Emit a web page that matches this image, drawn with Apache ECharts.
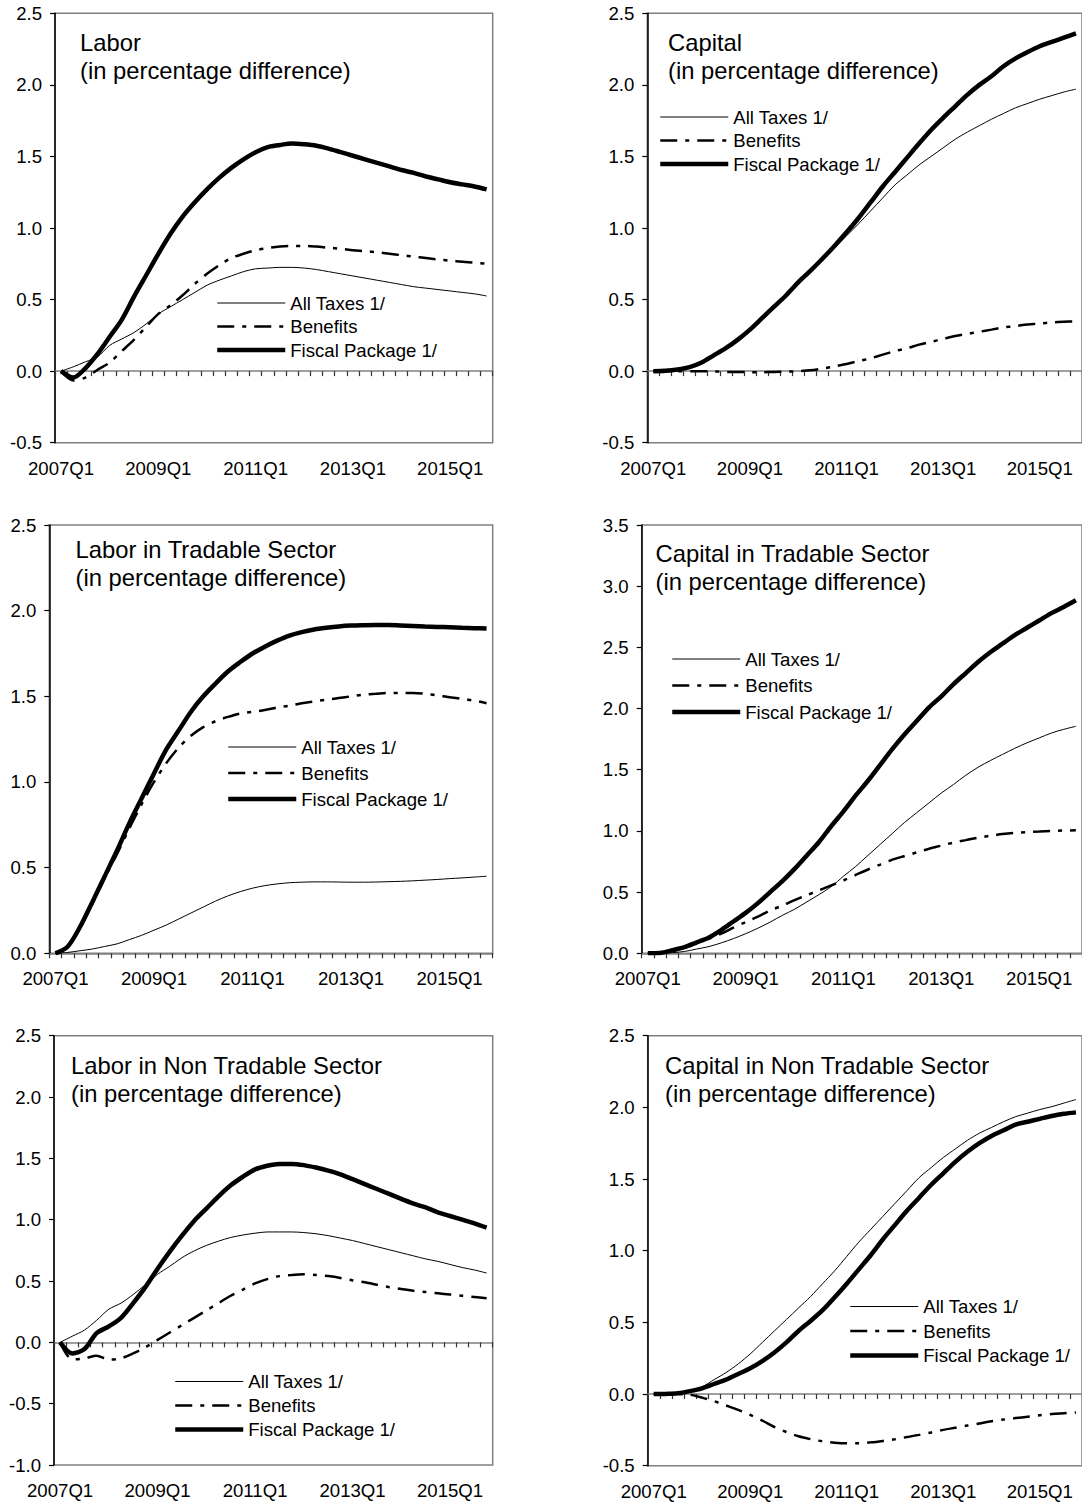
<!DOCTYPE html>
<html>
<head>
<meta charset="utf-8">
<script src="https://cdn.jsdelivr.net/npm/echarts@6/dist/echarts.min.js"></script>
<style>
  html, body { margin: 0; padding: 0; background: #fff; }
  #chart { width: 1082px; height: 1505px; overflow: hidden; }
</style>
</head>
<body>
<div id="chart"></div>
<script>
// ---------- Data ----------
const quarters = [
  '2007Q1','2007Q2','2007Q3','2007Q4','2008Q1','2008Q2','2008Q3','2008Q4',
  '2009Q1','2009Q2','2009Q3','2009Q4','2010Q1','2010Q2','2010Q3','2010Q4',
  '2011Q1','2011Q2','2011Q3','2011Q4','2012Q1','2012Q2','2012Q3','2012Q4',
  '2013Q1','2013Q2','2013Q3','2013Q4','2014Q1','2014Q2','2014Q3','2014Q4',
  '2015Q1','2015Q2','2015Q3','2015Q4'
];
const seriesNames = ['All Taxes 1/', 'Benefits', 'Fiscal Package 1/'];

// Labor
const laborAllTaxes = [0, 0.03, 0.065, 0.1, 0.18, 0.225, 0.27, 0.33, 0.4, 0.45, 0.5, 0.55, 0.6, 0.635, 0.665, 0.695, 0.715, 0.72, 0.725, 0.725, 0.72, 0.71, 0.695, 0.68, 0.665, 0.65, 0.635, 0.62, 0.605, 0.59, 0.58, 0.57, 0.56, 0.55, 0.54, 0.525];
const laborBenefits = [0, -0.065, -0.045, 0.01, 0.06, 0.14, 0.22, 0.31, 0.4, 0.46, 0.53, 0.61, 0.68, 0.74, 0.79, 0.82, 0.845, 0.86, 0.87, 0.875, 0.875, 0.87, 0.862, 0.855, 0.845, 0.838, 0.83, 0.82, 0.81, 0.8, 0.79, 0.78, 0.772, 0.765, 0.758, 0.75];
const laborFiscal = [0, -0.045, 0.02, 0.12, 0.24, 0.36, 0.52, 0.67, 0.82, 0.96, 1.08, 1.18, 1.27, 1.35, 1.42, 1.48, 1.53, 1.565, 1.58, 1.59, 1.585, 1.575, 1.555, 1.53, 1.505, 1.48, 1.455, 1.43, 1.405, 1.385, 1.36, 1.34, 1.32, 1.305, 1.29, 1.27];

// Capital
const capitalAllTaxes = [0, 0.003, 0.012, 0.028, 0.06, 0.11, 0.16, 0.22, 0.29, 0.37, 0.45, 0.53, 0.62, 0.7, 0.78, 0.86, 0.945, 1.03, 1.12, 1.21, 1.3, 1.37, 1.44, 1.5, 1.56, 1.62, 1.67, 1.715, 1.76, 1.8, 1.84, 1.87, 1.9, 1.925, 1.95, 1.97];
const capitalBenefits = [0, 0, 0, 0, 0, -0.002, -0.005, -0.006, -0.007, -0.007, -0.006, -0.004, 0, 0.006, 0.018, 0.033, 0.05, 0.07, 0.09, 0.115, 0.14, 0.16, 0.185, 0.205, 0.225, 0.245, 0.26, 0.275, 0.29, 0.305, 0.315, 0.325, 0.333, 0.34, 0.345, 0.348];
const capitalFiscal = [0, 0.003, 0.012, 0.028, 0.06, 0.11, 0.16, 0.22, 0.29, 0.37, 0.45, 0.53, 0.62, 0.7, 0.785, 0.875, 0.97, 1.07, 1.18, 1.29, 1.39, 1.49, 1.59, 1.685, 1.77, 1.85, 1.93, 2.0, 2.06, 2.13, 2.185, 2.23, 2.27, 2.3, 2.33, 2.36];

// Labor in Tradable Sector
const laborTradAllTaxes = [0, 0.005, 0.015, 0.025, 0.04, 0.055, 0.08, 0.105, 0.135, 0.165, 0.2, 0.235, 0.27, 0.305, 0.335, 0.36, 0.38, 0.395, 0.405, 0.412, 0.415, 0.417, 0.417, 0.416, 0.415, 0.415, 0.416, 0.418, 0.42, 0.423, 0.427, 0.431, 0.436, 0.44, 0.445, 0.45];
const laborTradBenefits = [0, 0.04, 0.15, 0.29, 0.44, 0.58, 0.73, 0.87, 1.0, 1.11, 1.2, 1.27, 1.32, 1.355, 1.38, 1.4, 1.41, 1.42, 1.435, 1.445, 1.46, 1.47, 1.48, 1.49, 1.5, 1.51, 1.515, 1.52, 1.52, 1.52, 1.515, 1.505, 1.495, 1.485, 1.475, 1.46];
const laborTradFiscal = [0, 0.04, 0.155, 0.3, 0.45, 0.6, 0.76, 0.905, 1.05, 1.19, 1.3, 1.41, 1.5, 1.575, 1.645, 1.7, 1.75, 1.79, 1.825, 1.855, 1.875, 1.89, 1.9, 1.908, 1.913, 1.915, 1.916, 1.916, 1.913, 1.91, 1.907, 1.905, 1.903, 1.9, 1.898, 1.896];

// Capital in Tradable Sector
const capitalTradAllTaxes = [0, 0, 0.005, 0.015, 0.035, 0.055, 0.085, 0.12, 0.16, 0.205, 0.255, 0.31, 0.36, 0.42, 0.48, 0.545, 0.63, 0.71, 0.8, 0.89, 0.98, 1.07, 1.15, 1.23, 1.31, 1.38, 1.455, 1.52, 1.575, 1.625, 1.675, 1.72, 1.76, 1.8, 1.83, 1.855];
const capitalTradBenefits = [0, 0.003, 0.02, 0.045, 0.085, 0.12, 0.16, 0.21, 0.255, 0.3, 0.35, 0.39, 0.435, 0.475, 0.515, 0.555, 0.595, 0.64, 0.685, 0.725, 0.765, 0.795, 0.825, 0.855, 0.88, 0.905, 0.925, 0.945, 0.96, 0.975, 0.985, 0.99, 0.995, 1.0, 1.003, 1.005];
const capitalTradFiscal = [0, 0.002, 0.025, 0.05, 0.09, 0.13, 0.19, 0.26, 0.33, 0.41, 0.5, 0.59, 0.69, 0.8, 0.91, 1.04, 1.16, 1.29, 1.41, 1.54, 1.67, 1.79, 1.9, 2.01, 2.1, 2.2, 2.29, 2.38, 2.46, 2.53, 2.6, 2.66, 2.72, 2.78, 2.83, 2.885];

// Labor in Non Tradable Sector
const laborNonTradAllTaxes = [0, 0.05, 0.1, 0.18, 0.27, 0.32, 0.39, 0.47, 0.555, 0.62, 0.69, 0.745, 0.79, 0.825, 0.855, 0.875, 0.89, 0.9, 0.9, 0.9, 0.895, 0.885, 0.87, 0.85, 0.83, 0.805, 0.78, 0.755, 0.73, 0.705, 0.68, 0.66, 0.635, 0.61, 0.59, 0.565];
const laborNonTradBenefits = [0, -0.14, -0.13, -0.11, -0.14, -0.13, -0.09, -0.04, 0.02, 0.08, 0.14, 0.2, 0.26, 0.32, 0.38, 0.43, 0.48, 0.515, 0.54, 0.55, 0.555, 0.55, 0.54, 0.525, 0.505, 0.49, 0.47, 0.45, 0.435, 0.42, 0.41, 0.4, 0.39, 0.38, 0.37, 0.36];
const laborNonTradFiscal = [0, -0.09, -0.055, 0.075, 0.13, 0.2, 0.32, 0.45, 0.6, 0.74, 0.87, 0.99, 1.09, 1.19, 1.28, 1.35, 1.41, 1.44, 1.455, 1.455, 1.445, 1.425, 1.4, 1.37, 1.33, 1.29, 1.25, 1.21, 1.17, 1.13, 1.1, 1.06, 1.03, 1.0, 0.97, 0.935];

// Capital in Non Tradable Sector
const capitalNonTradAllTaxes = [0, 0.002, 0.008, 0.02, 0.05, 0.1, 0.15, 0.21, 0.28, 0.36, 0.44, 0.52, 0.6, 0.68, 0.77, 0.86, 0.96, 1.06, 1.15, 1.24, 1.33, 1.42, 1.51, 1.58, 1.65, 1.71, 1.77, 1.82, 1.86, 1.9, 1.935, 1.96, 1.985, 2.005, 2.03, 2.055];
const capitalNonTradBenefits = [0, 0, 0, -0.005, -0.025, -0.05, -0.08, -0.11, -0.145, -0.185, -0.23, -0.265, -0.295, -0.315, -0.33, -0.34, -0.344, -0.343, -0.337, -0.327, -0.315, -0.3, -0.285, -0.268, -0.25, -0.235, -0.22, -0.205, -0.19, -0.178, -0.168, -0.158, -0.148, -0.14, -0.134, -0.128];
const capitalNonTradFiscal = [0, 0.001, 0.005, 0.02, 0.04, 0.07, 0.1, 0.14, 0.18, 0.23, 0.29, 0.36, 0.44, 0.51, 0.585, 0.675, 0.77, 0.87, 0.97, 1.08, 1.18, 1.28, 1.37, 1.46, 1.54, 1.62, 1.69, 1.75, 1.8, 1.84, 1.88, 1.9, 1.92, 1.94, 1.955, 1.965];

// ---------- Layout / styling ----------
const FONT = "'Liberation Sans', Arial, Helvetica, sans-serif";
const panels = [
  { title: 'Labor\n(in percentage difference)', data: [laborAllTaxes, laborBenefits, laborFiscal],
    yMin: -0.5, yMax: 2.5, grid: { left: 55, top: 13.3, width: 437.7, height: 429.4 },
    titlePos: [80, 28.5], legendPos: [215, 293.5], legendGap: 4.5 },
  { title: 'Capital\n(in percentage difference)', data: [capitalAllTaxes, capitalBenefits, capitalFiscal],
    yMin: -0.5, yMax: 2.5, grid: { left: 647.3, top: 13.3, width: 437.7, height: 429.4 },
    titlePos: [668, 28.5], legendPos: [658, 107.5], legendGap: 4.5 },
  { title: 'Labor in Tradable Sector\n(in percentage difference)', data: [laborTradAllTaxes, laborTradBenefits, laborTradFiscal],
    yMin: 0, yMax: 2.5, grid: { left: 49.3, top: 525, width: 443.4, height: 428.3 },
    titlePos: [75.5, 535.5], legendPos: [226, 737.5], legendGap: 7 },
  { title: 'Capital in Tradable Sector\n(in percentage difference)', data: [capitalTradAllTaxes, capitalTradBenefits, capitalTradFiscal],
    yMin: 0, yMax: 3.5, grid: { left: 641.7, top: 525, width: 444.5, height: 428.3 },
    titlePos: [655.5, 539], legendPos: [670, 649.5], legendGap: 7.5 },
  { title: 'Labor in Non Tradable Sector\n(in percentage difference)', data: [laborNonTradAllTaxes, laborNonTradBenefits, laborNonTradFiscal],
    yMin: -1, yMax: 2.5, grid: { left: 54, top: 1035.7, width: 438.7, height: 429.3 },
    titlePos: [71, 1051.8], legendPos: [173, 1372], legendGap: 5 },
  { title: 'Capital in Non Tradable Sector\n(in percentage difference)', data: [capitalNonTradAllTaxes, capitalNonTradBenefits, capitalNonTradFiscal],
    yMin: -0.5, yMax: 2.5, grid: { left: 647.7, top: 1035.7, width: 438, height: 430 },
    titlePos: [665, 1051], legendPos: [848, 1297], legendGap: 5.5 }
];

const lineStyles = [
  { color: '#000', width: 1 },
  { color: '#000', width: 2.5, type: [17, 8, 4, 8] },
  { color: '#000', width: 4.5 }
];

const grid = [], xAxis = [], yAxis = [], series = [], title = [], legend = [];

panels.forEach((p, i) => {
  grid.push(Object.assign({ show: true, borderColor: '#808080', borderWidth: 1.5, backgroundColor: 'transparent' }, p.grid));

  // axis on zero: line + quarterly ticks
  xAxis.push({
    type: 'category', gridIndex: i, data: quarters, boundaryGap: true, position: 'bottom',
    axisLine: { show: true, onZero: true, lineStyle: { color: '#808080', width: 1.5 } },
    axisTick: { show: true, interval: 0, length: 5, lineStyle: { color: '#333', width: 1.2 } },
    axisLabel: { show: false }, splitLine: { show: false }
  });
  // bottom axis: labels only
  xAxis.push({
    type: 'category', gridIndex: i, data: quarters, boundaryGap: true, position: 'bottom',
    axisLine: { show: false, onZero: false }, axisTick: { show: false },
    axisLabel: { show: true, interval: 7, margin: 16, fontSize: 18.6, color: '#000', fontFamily: FONT },
    splitLine: { show: false }
  });

  yAxis.push({
    type: 'value', gridIndex: i, min: p.yMin, max: p.yMax, interval: 0.5,
    axisLine: { show: true, onZero: false, lineStyle: { color: '#000', width: 1.5 } },
    axisTick: { show: true, length: 5, lineStyle: { color: '#000', width: 1.2 } },
    axisLabel: { margin: 13, fontSize: 18.6, color: '#000', fontFamily: FONT, formatter: v => v.toFixed(1) },
    splitLine: { show: false }
  });

  p.data.forEach((arr, k) => {
    series.push({
      type: 'line', name: seriesNames[k], xAxisIndex: 2 * i, yAxisIndex: i,
      data: arr, symbol: 'none', showSymbol: false, silent: true, smooth: 0.3,
      lineStyle: lineStyles[k], z: 2 + k
    });
  });

  title.push({
    text: p.title, left: p.titlePos[0], top: p.titlePos[1], padding: 0,
    textStyle: { fontSize: 23.8, fontWeight: 'normal', fontFamily: FONT, color: '#000', lineHeight: 28 }
  });

  legend.push({
    left: p.legendPos[0], top: p.legendPos[1], orient: 'vertical', padding: 0,
    itemWidth: 68, itemHeight: 14, itemGap: p.legendGap, selectedMode: false,
    data: seriesNames,
    itemStyle: { opacity: 0 },
    lineStyle: { width: 'inherit' },
    textStyle: { fontSize: 18.6, fontFamily: FONT, color: '#000', lineHeight: 19 }
  });
});

const chart = echarts.init(document.getElementById('chart'), null, { renderer: 'svg', width: 1082, height: 1505 });
chart.setOption({
  animation: false,
  backgroundColor: '#fff',
  title, legend, grid, xAxis, yAxis, series
});
</script>
</body>
</html>
